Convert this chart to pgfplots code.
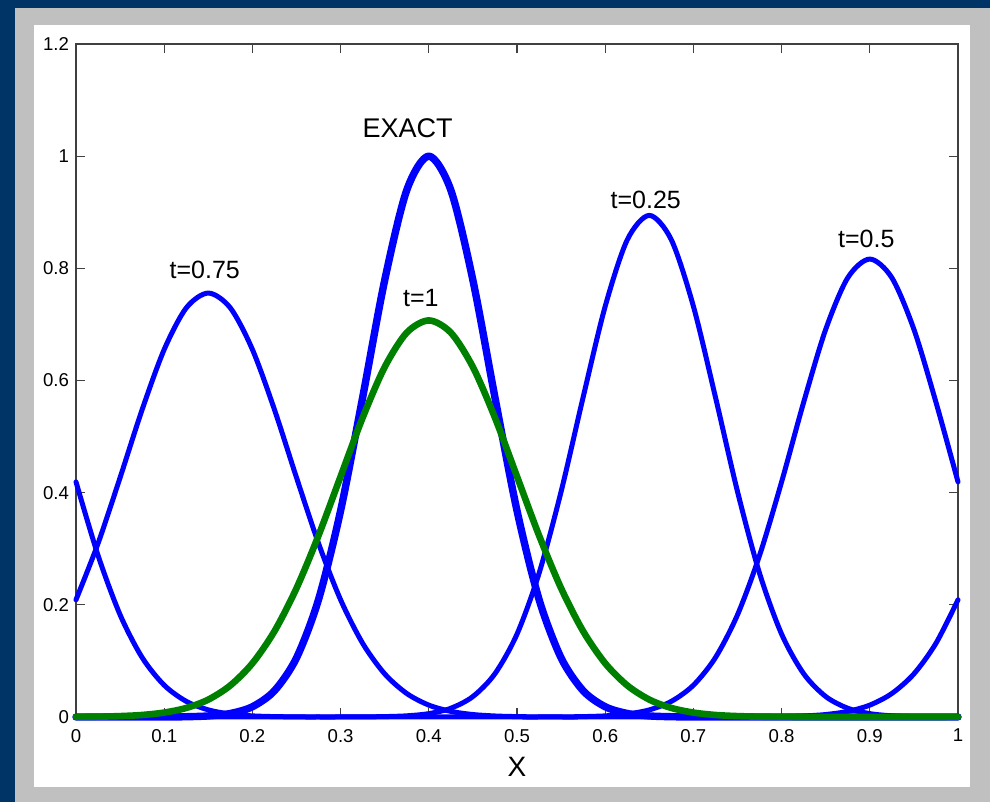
\documentclass[border=0pt]{standalone}
\usepackage{fontspec}
\setmainfont{Liberation Sans}
\usepackage{pgfplots}
\usepackage{pgfplotstable}
\pgfplotsset{compat=1.18}

\definecolor{frameblue}{RGB}{0,51,102}
\definecolor{framegray}{RGB}{192,192,192}
\definecolor{mblue}{RGB}{0,0,255}
\definecolor{mgreen}{RGB}{0,128,0}

% profiles, step 0.025
\pgfplotstableread{
x      exact   t25     t50     t75     t100
0.000  0       0       0.4192  0.2090  0.0002
0.025  0       0       0.2881  0.3095  0.0006
0.050  0       0       0.1822  0.4269  0.0016
0.075  0       0       0.1060  0.5481  0.0036
0.100  0       0       0.0567  0.6553  0.0079
0.125  0.0005  0       0.0279  0.7294  0.0161
0.150  0.0019  0       0.0127  0.7559  0.0310
0.175  0.0063  0       0.0053  0.7294  0.0563
0.200  0.0183  0       0.0020  0.6553  0.0957
0.225  0.0468  0       0.0007  0.5481  0.1529
0.250  0.1054  0       0.0002  0.4269  0.2296
0.275  0.2096  0       0       0.3095  0.3237
0.300  0.3679  0.0001  0       0.2090  0.4289
0.325  0.5698  0.0002  0       0.1314  0.5337
0.350  0.7788  0.0007  0       0.0769  0.6240
0.375  0.9394  0.0021  0       0.0419  0.6853
0.400  1.0000  0.0060  0       0.0212  0.7071
0.425  0.9394  0.0156  0       0.0100  0.6853
0.450  0.7788  0.0365  0       0.0044  0.6240
0.475  0.5698  0.0772  0       0.0018  0.5337
0.500  0.3679  0.1478  0       0.0007  0.4289
0.525  0.2096  0.2562  0       0.0002  0.3237
0.550  0.1054  0.4019  0.0002  0       0.2296
0.575  0.0468  0.5703  0.0007  0       0.1529
0.600  0.0183  0.7323  0.0020  0       0.0957
0.625  0.0063  0.8508  0.0053  0       0.0563
0.650  0.0019  0.8944  0.0127  0       0.0310
0.675  0.0005  0.8508  0.0279  0       0.0161
0.700  0.0001  0.7323  0.0567  0       0.0079
0.725  0       0.5703  0.1060  0       0.0036
0.750  0       0.4019  0.1822  0       0.0016
0.775  0       0.2562  0.2881  0.0002  0.0006
0.800  0       0.1478  0.4192  0.0007  0.0002
0.825  0       0.0772  0.5612  0.0018  0
0.850  0       0.0365  0.6912  0.0044  0
0.875  0       0.0156  0.7832  0.0100  0
0.900  0       0.0060  0.8165  0.0212  0
0.925  0       0.0021  0.7832  0.0419  0
0.950  0       0.0007  0.6912  0.0769  0
0.975  0       0.0002  0.5612  0.1314  0
1.000  0       0.0001  0.4192  0.2090  0.0002
}\profiles

\begin{document}
\begin{tikzpicture}
% slide frame
\fill[frameblue] (0,0) rectangle (495pt,401pt);
\fill[framegray] (7.5pt,0) rectangle (495pt,397pt);
\fill[white] (17pt,7.7pt) rectangle (485pt,388.5pt);

\begin{axis}[
  at={(38pt,42.5pt)}, anchor=south west,
  scale only axis, width=441pt, height=336.5pt,
  xmin=0, xmax=1, ymin=0, ymax=1.2,
  xtick={0,0.1,0.2,0.3,0.4,0.5,0.6,0.7,0.8,0.9,1},
  ytick={0,0.2,0.4,0.6,0.8,1,1.2},
  tick align=inside, major tick length=4.5pt,
  axis line style={draw=black!75, line width=0.65pt},
  every tick/.style={black!75, line width=0.65pt},
  /pgf/number format/assume math mode=true,
  ticklabel style={font=\fontsize{9.3}{11}\selectfont},
  xticklabel style={yshift=-2.5pt},
  xlabel={X},
  xlabel style={at={(axis description cs:0.5,0)}, anchor=center,
    yshift=-25pt, font=\fontsize{14}{16}\selectfont},
  clip=false,
  every axis plot/.append style={smooth, line join=round, line cap=round},
]
\addplot[mblue, line width=2.5pt] table[x=x, y=t25] {\profiles};
\addplot[mblue, line width=2.5pt] table[x=x, y=t50] {\profiles};
\addplot[mblue, line width=2.5pt] table[x=x, y=t75] {\profiles};
\addplot[mblue, line width=3.7pt] table[x=x, y=exact] {\profiles};
\addplot[mgreen, line width=3.3pt] table[x=x, y=t100] {\profiles};

\node[font=\fontsize{13.5}{15}\selectfont] at (axis cs:0.376,1.050) {EXACT};
\node[font=\fontsize{12.5}{14}\selectfont] at (axis cs:0.146,0.797) {t=0.75};
\node[font=\fontsize{12.5}{14}\selectfont] at (axis cs:0.646,0.922) {t=0.25};
\node[font=\fontsize{12.5}{14}\selectfont] at (axis cs:0.896,0.852) {t=0.5};
\node[font=\fontsize{12.5}{14}\selectfont] at (axis cs:0.391,0.747) {t=1};
\end{axis}
\end{tikzpicture}
\end{document}
